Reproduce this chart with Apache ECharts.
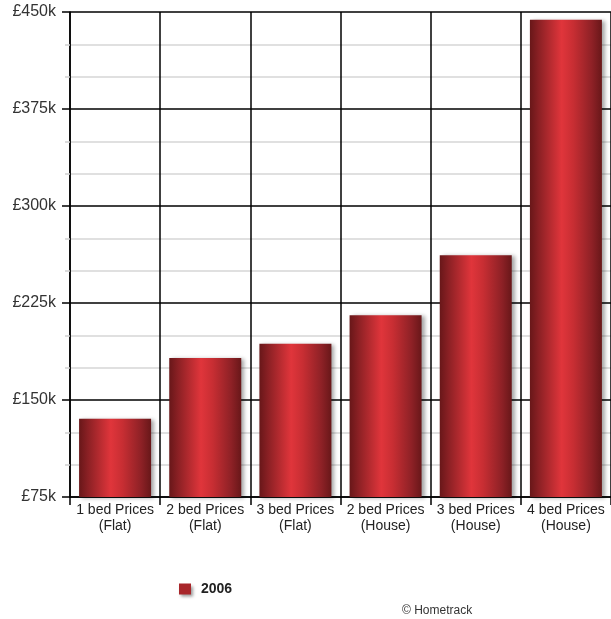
<!DOCTYPE html>
<html>
<head>
<meta charset="utf-8">
<title>Property prices 2006</title>
<script src="https://cdn.jsdelivr.net/npm/echarts@6/dist/echarts.min.js"></script>
<style>
  html, body { margin: 0; padding: 0; background: #ffffff; }
  #chart { width: 611px; height: 619px; }
</style>
</head>
<body>
<div id="chart"></div>
<script>
// Average asking prices by property type
const categories = [
  '1 bed Prices\n(Flat)',
  '2 bed Prices\n(Flat)',
  '3 bed Prices\n(Flat)',
  '2 bed Prices\n(House)',
  '3 bed Prices\n(House)',
  '4 bed Prices\n(House)'
];
const seriesName = '2006';
const prices2006 = [135500, 182500, 193500, 215500, 262000, 444000];
const yMin = 75000;
const yMax = 450000;
const yStep = 75000;
const sourceNote = '\u00a9 Hometrack';

const chart = echarts.init(document.getElementById('chart'), null, { renderer: 'canvas' });

const barFill = new echarts.graphic.LinearGradient(0, 0, 1, 0, [
  { offset: 0, color: '#681719' },
  { offset: 0.12, color: '#8a2024' },
  { offset: 0.44, color: '#e0353b' },
  { offset: 0.6, color: '#c82e33' },
  { offset: 0.86, color: '#8e2126' },
  { offset: 1, color: '#681719' }
]);

const font = '"Liberation Sans", Arial, Helvetica, sans-serif';

chart.setOption({
  backgroundColor: '#ffffff',
  animation: false,
  grid: { left: 70, top: 12, width: 544, height: 485, containLabel: false },
  legend: {
    left: 174,
    top: 577,
    icon: 'rect',
    itemWidth: 12,
    itemHeight: 11,
    data: [{ name: seriesName, itemStyle: { color: '#a8262a', shadowColor: 'rgba(0,0,0,0.4)', shadowBlur: 3, shadowOffsetX: 2, shadowOffsetY: 2 } }],
    textStyle: { fontFamily: font, fontSize: 14, fontWeight: 'bold', color: '#222', padding: [0, 0, 0, 5] }
  },
  xAxis: {
    type: 'category',
    data: categories,
    boundaryGap: true,
    axisLine: { show: true, lineStyle: { color: '#000', width: 1.5 } },
    axisTick: { show: true, length: 8, lineStyle: { color: '#000', width: 1.5 } },
    splitLine: { show: true, lineStyle: { color: '#000', width: 1.5 } },
    axisLabel: {
      margin: 5,
      fontFamily: font,
      fontSize: 14,
      lineHeight: 16,
      color: '#222',
      interval: 0
    }
  },
  yAxis: {
    type: 'value',
    min: yMin,
    max: yMax,
    interval: yStep,
    axisLine: { show: true, lineStyle: { color: '#000', width: 1.5 } },
    axisTick: { show: true, length: 8, lineStyle: { color: '#000', width: 1.5 } },
    minorTick: { show: true, splitNumber: 3, length: 5, lineStyle: { color: '#cfcfcf', width: 1.5 } },
    splitLine: { show: true, lineStyle: { color: '#000', width: 1.5 } },
    minorSplitLine: { show: true, lineStyle: { color: '#d6d6d6', width: 1.5 } },
    axisLabel: {
      margin: 14,
      fontFamily: font,
      fontSize: 16,
      color: '#333',
      formatter: v => '\u00a3' + Math.round(v / 1000) + 'k'
    }
  },
  series: [{
    name: seriesName,
    type: 'bar',
    data: prices2006,
    barWidth: 72,
    itemStyle: {
      color: barFill,
      shadowColor: 'rgba(0,0,0,0.35)',
      shadowBlur: 4,
      shadowOffsetX: 3,
      shadowOffsetY: 1
    }
  }],
  graphic: [{
    type: 'text',
    left: 402,
    top: 605,
    style: { text: sourceNote, fontFamily: font, fontSize: 12, fill: '#333' }
  }]
});
</script>
</body>
</html>
